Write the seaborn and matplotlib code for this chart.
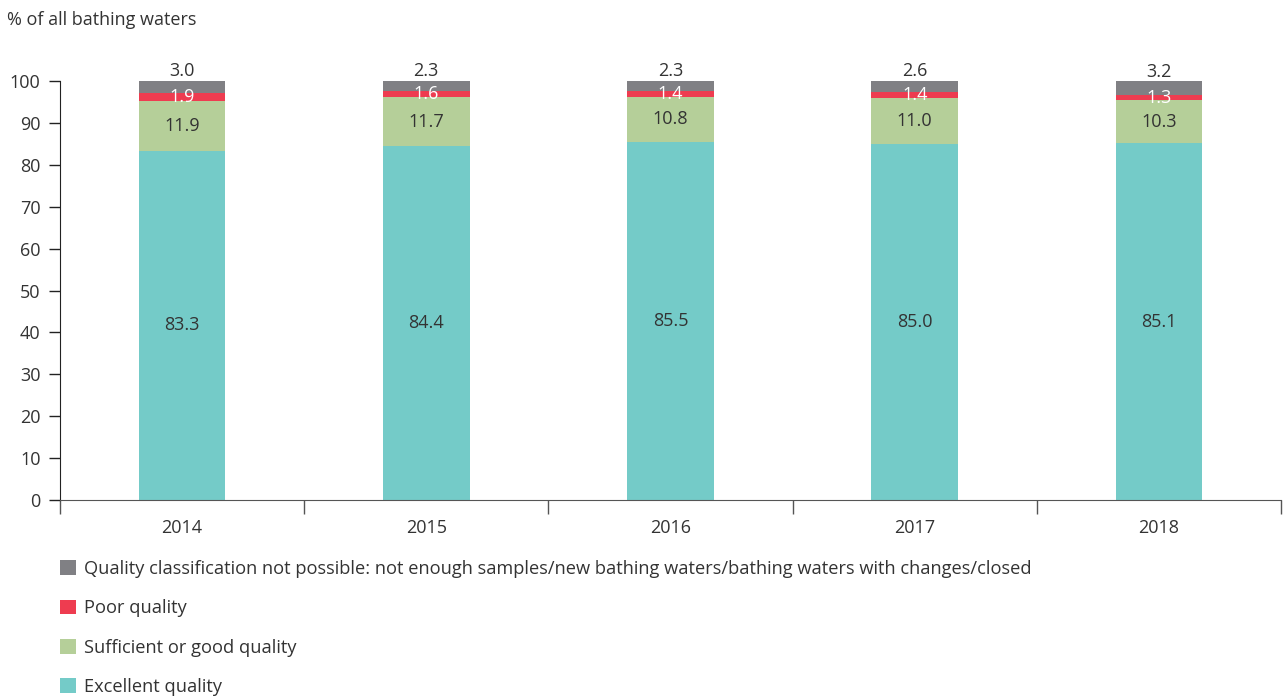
import numpy as np
import pandas as pd
import matplotlib
matplotlib.use("Agg")
import matplotlib.pyplot as plt
import seaborn as sns
from matplotlib.patches import Patch

# Data
years = ["2014", "2015", "2016", "2017", "2018"]
excellent = [83.3, 84.4, 85.5, 85.0, 85.1]
good = [11.9, 11.7, 10.8, 11.0, 10.3]
poor = [1.9, 1.6, 1.4, 1.4, 1.3]
not_possible = [3.0, 2.3, 2.3, 2.6, 3.2]

series_names = [
    "Quality classification not possible: not enough samples/new bathing waters/bathing waters with changes/closed",
    "Poor quality",
    "Sufficient or good quality",
    "Excellent quality",
]
colors = {
    "excellent": "#74cbc8",
    "good": "#b5cf99",
    "poor": "#ee3c50",
    "not_possible": "#808084",
}

sns.set_style("white")
plt.rcParams["font.family"] = ["Open Sans", "DejaVu Sans"]
text_color = "#333333"
fs = 13

df = pd.DataFrame({
    "year": years,
    "excellent": excellent,
    "good": good,
    "poor": poor,
    "not_possible": not_possible,
})
df["c_exc"] = df["excellent"]
df["c_good"] = df["c_exc"] + df["good"]
df["c_poor"] = df["c_good"] + df["poor"]
df["c_all"] = df["c_poor"] + df["not_possible"]

fig = plt.figure(figsize=(12.86, 6.97), dpi=100)
ax = fig.add_axes([60 / 1286, 1 - 500 / 697, 1221 / 1286, 419 / 697])

bw = 0.355
# stacked by overlaying cumulative totals, tallest first
for col, key in [("c_all", "not_possible"), ("c_poor", "poor"),
                 ("c_good", "good"), ("c_exc", "excellent")]:
    sns.barplot(data=df, x="year", y=col, order=years, color=colors[key],
                width=bw, saturation=1, ax=ax, linewidth=0, errorbar=None)

ax.set_ylim(0, 100)
ax.set_xlim(-0.5, 4.5)
ax.set_yticks(range(0, 101, 10))
ax.set_xlabel("")
ax.set_ylabel("")
for s in ["top", "right"]:
    ax.spines[s].set_visible(False)
ax.spines["left"].set_color("#222222")
ax.spines["bottom"].set_color("#555555")
ax.tick_params(axis="y", length=8, width=1, color="#222222", labelsize=fs,
               labelcolor=text_color, pad=6, left=True)
ax.tick_params(axis="x", which="major", length=0, labelsize=fs,
               labelcolor=text_color, pad=14)
ax.set_xticks(np.arange(-0.5, 5, 1), minor=True)
ax.tick_params(axis="x", which="minor", length=10, width=1, color="#555555",
               bottom=True)

# value labels
for i in range(len(years)):
    e, g, p, n = excellent[i], good[i], poor[i], not_possible[i]
    ax.text(i, e / 2, f"{e:.1f}", ha="center", va="center", fontsize=fs, color=text_color)
    ax.text(i, e + g / 2, f"{g:.1f}", ha="center", va="center", fontsize=fs, color=text_color)
    ax.text(i, e + g + p / 2, f"{p:.1f}", ha="center", va="center", fontsize=fs, color="white")
    ax.text(i, df["c_all"][i] + 0.2, f"{n:.1f}", ha="center", va="bottom",
            fontsize=fs, color=text_color, clip_on=False)

fig.text(7 / 1286, 1 - 20 / 697, "% of all bathing waters", fontsize=fs,
         color=text_color, ha="left", va="center")

handles = [Patch(facecolor=colors[k], edgecolor="none")
           for k in ["not_possible", "poor", "good", "excellent"]]
fig.legend(handles, series_names, loc="upper left",
           bbox_to_anchor=(60 / 1286, 1 - 560 / 697), frameon=False,
           fontsize=13.15, labelcolor=text_color, handlelength=0.85,
           handleheight=0.85, handletextpad=0.45, labelspacing=1.17,
           borderaxespad=0, borderpad=0)

fig.savefig("out.png", dpi=100)
